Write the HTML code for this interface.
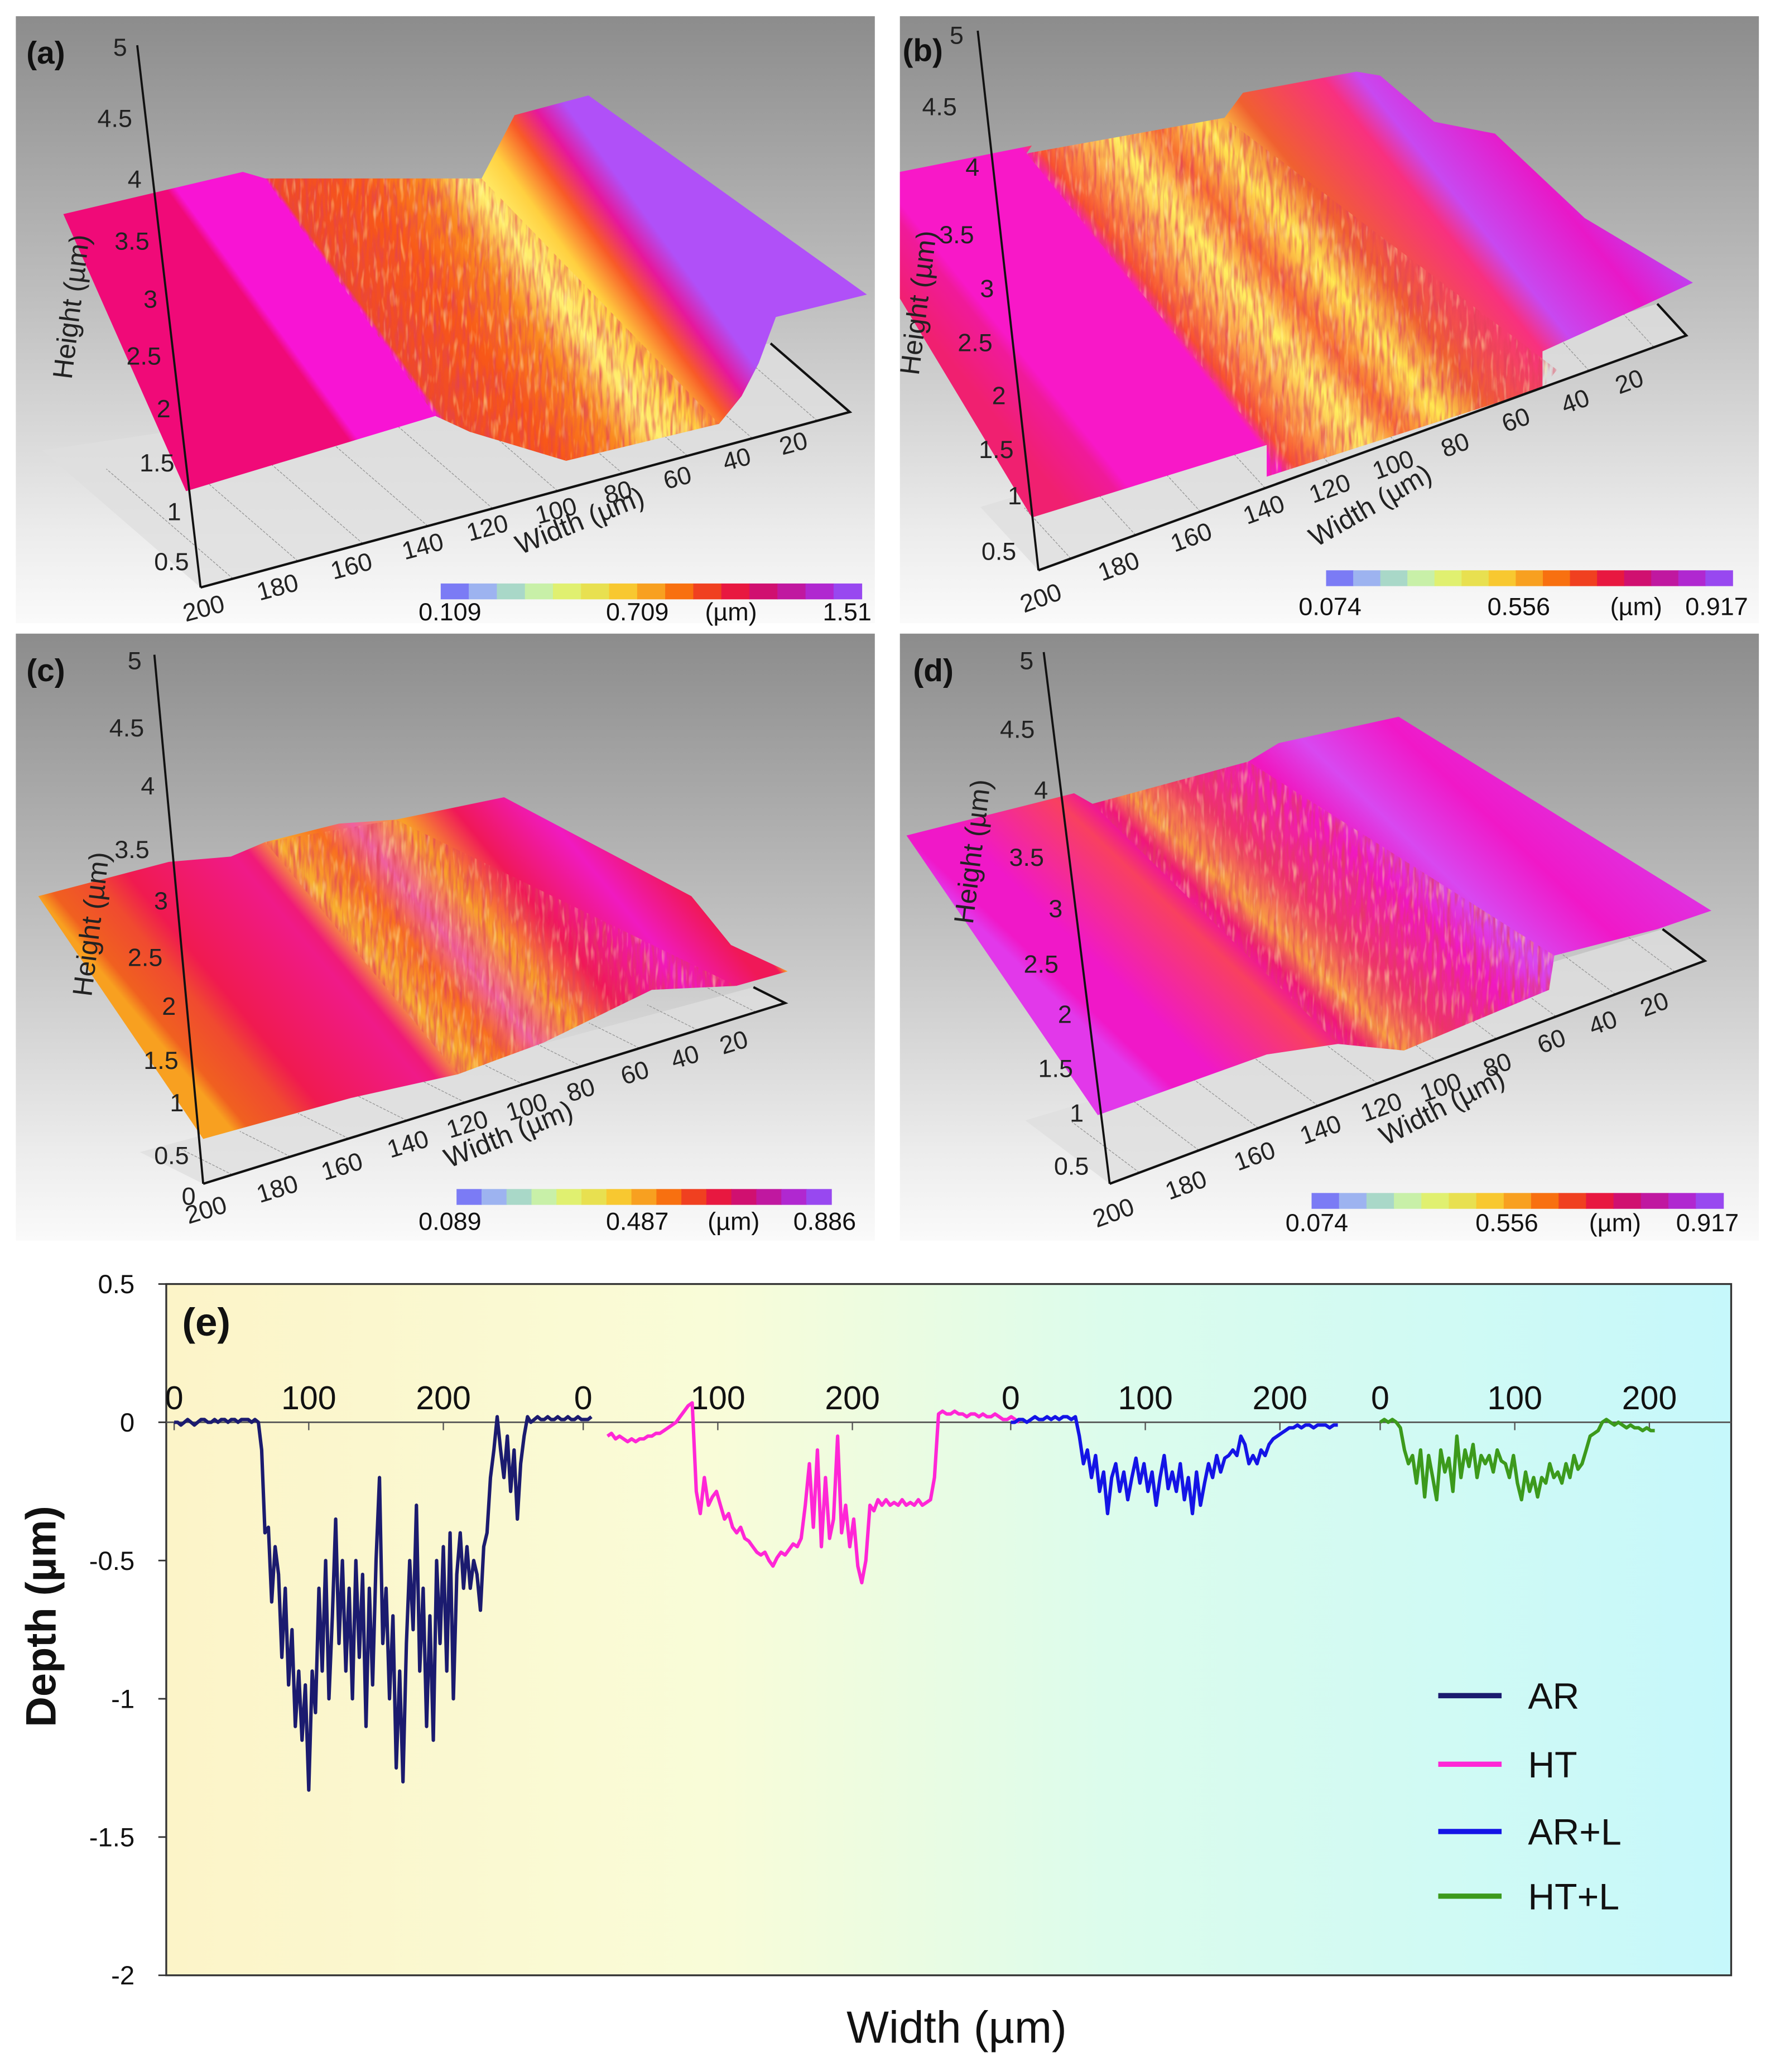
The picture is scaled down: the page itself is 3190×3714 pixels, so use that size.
<!DOCTYPE html>
<html><head><meta charset="utf-8"><title>Surface profiles</title>
<style>
html,body{margin:0;padding:0;background:#fff;}
svg{display:block;font-family:"Liberation Sans",Arial,sans-serif;}
</style></head>
<body>
<svg id="fig" xmlns="http://www.w3.org/2000/svg" width="3190" height="3714" viewBox="0 0 1349 1570">
<defs id="defs">
<linearGradient id="panelbg" x1="0" y1="0" x2="0" y2="1">
<stop offset="0" stop-color="#8c8c8c"/><stop offset="0.45" stop-color="#bdbdbd"/><stop offset="0.85" stop-color="#ececec"/><stop offset="1" stop-color="#fafafa"/>
</linearGradient>
<linearGradient id="ebg" x1="0" y1="0" x2="1" y2="0">
<stop offset="0" stop-color="#fcf4c8"/><stop offset="0.35" stop-color="#f9fcd8"/><stop offset="0.6" stop-color="#dcfcec"/><stop offset="1" stop-color="#c6f8fb"/>
</linearGradient>
<filter id="nz" x="0" y="0" width="1" height="1">
<feTurbulence type="fractalNoise" baseFrequency="0.35 0.05" numOctaves="2" seed="4"/>
<feColorMatrix type="matrix" values="0 0 0 0 0.75  0 0 0 0 0.05  0 0 0 0 0.1  0 0 0 2.2 -0.9"/>
</filter>
<filter id="nz2" x="0" y="0" width="1" height="1">
<feTurbulence type="fractalNoise" baseFrequency="0.3 0.06" numOctaves="2" seed="9"/>
<feColorMatrix type="matrix" values="0 0 0 0 1  0 0 0 0 0.95  0 0 0 0 0.4  0 0 0 2.4 -1.3"/>
</filter>
</defs>
<rect x="0" y="0" width="1349" height="1570" fill="#fff"/>
<g id="panels"></g>
<g id="panelE"></g>
</svg>
<script>
// ---------- Panel (e) data ----------
const seriesNames = ["AR", "HT", "AR+L", "HT+L"];
const seriesColors = ["#1b1b6f", "#ff26d6", "#1414e6", "#3c9a1c"];
const seriesOffsetsPx = [132, 442, 766, 1046];
const arStart = 0, arStep = 2.5;
const arDepth = [0,0,-0.01,0,0.01,0,-0.01,0,0.01,0.01,0,0,0.01,0,0.01,0.01,0,0.01,0.01,0,0.01,0.01,0.01,0,0.01,0,
-0.1,-0.4,-0.38,-0.65,-0.45,-0.55,-0.85,-0.6,-0.95,-0.75,-1.1,-0.9,-1.15,-0.95,-1.33,-0.9,-1.05,-0.6,-0.9,-0.5,-1.0,-0.7,-0.35,-0.8,-0.5,-0.9,-0.6,-1.0,-0.5,-0.85,-0.55,-1.1,-0.6,-0.95,-0.5,-0.2,-0.8,-0.6,-1.0,-0.7,-1.25,-0.9,-1.3,-0.8,-0.5,-0.75,-0.3,-0.9,-0.6,-1.1,-0.7,-1.15,-0.5,-0.8,-0.45,-0.9,-0.4,-1.0,-0.55,-0.4,-0.6,-0.45,-0.6,-0.5,-0.55,-0.68,-0.45,
-0.4,-0.2,-0.1,0.02,-0.1,-0.2,-0.05,-0.25,-0.1,-0.35,-0.15,-0.05,0.02,0,0.01,0.02,
0.01,0.01,0.02,0.01,0.01,0.02,0.01,0.01,0.02,0.01,0.01,0.02,0.01,0.01,0.01,0.02];
const htStart = 18, htStep = 3;
const htDepth = [-0.05,-0.04,-0.06,-0.05,-0.06,-0.07,-0.06,-0.07,-0.06,-0.06,
-0.05,-0.05,-0.04,-0.04,-0.03,-0.02,-0.01,0.0,0.02,0.04,0.06,0.07,
-0.25,-0.33,-0.2,-0.3,-0.27,-0.25,-0.3,-0.35,-0.33,-0.38,-0.4,-0.38,-0.42,
-0.43,-0.45,-0.47,-0.48,-0.47,-0.5,-0.52,-0.49,-0.47,-0.48,-0.46,-0.44,-0.45,
-0.42,-0.3,-0.15,-0.38,-0.1,-0.45,-0.2,-0.42,-0.35,-0.05,-0.4,-0.3,-0.45,-0.35,
-0.52,-0.58,-0.5,-0.3,-0.32,-0.28,-0.3,-0.28,-0.3,-0.29,-0.3,-0.28,-0.3,
-0.29,-0.3,-0.28,-0.3,-0.29,-0.28,-0.2,
0.03,0.04,0.03,0.03,0.04,0.03,0.03,0.02,0.03,0.03,0.02,0.03,0.02,0.02,0.03,0.02,0.01,0.01,0.02,0.01,0.0];
const arlStart = 0, arlStep = 3;
const arlDepth = [0,0,0.01,0.01,0,0.01,0.02,0.01,0.01,0.02,0.01,0.02,0.01,0.02,0.02,0.01,0.02,
-0.05,-0.15,-0.1,-0.2,-0.12,-0.25,-0.18,-0.33,-0.2,-0.15,-0.25,-0.18,-0.28,-0.2,-0.13,-0.22,-0.15,-0.25,-0.18,-0.3,-0.2,-0.12,-0.24,-0.18,
-0.25,-0.15,-0.28,-0.2,-0.33,-0.18,-0.3,-0.22,-0.15,-0.2,-0.12,-0.18,-0.13,-0.12,-0.1,-0.12,-0.05,-0.08,-0.15,-0.12,
-0.15,-0.1,-0.12,-0.08,-0.06,-0.05,-0.04,-0.03,-0.02,-0.02,-0.01,-0.02,-0.01,-0.01,-0.02,-0.01,-0.01,-0.01,-0.02,-0.01,-0.01];
const htlStart = 0, htlStep = 3;
const htlDepth = [0,0.01,0,0.01,0,-0.02,
-0.1,-0.15,-0.12,-0.22,-0.1,-0.27,-0.12,-0.2,-0.28,-0.1,-0.18,-0.13,-0.25,-0.05,-0.2,-0.1,-0.16,-0.08,-0.2,-0.12,-0.15,-0.12,-0.18,-0.1,-0.14,
-0.15,-0.2,-0.12,-0.22,-0.28,-0.18,-0.25,-0.2,-0.27,-0.2,-0.22,-0.15,-0.2,-0.18,-0.22,-0.15,-0.2,-0.12,-0.17,-0.15,
-0.1,-0.05,-0.04,-0.03,0,0.01,0,-0.01,0,-0.01,-0.02,-0.01,-0.02,-0.02,-0.03,-0.02,-0.03,-0.03];
const yTicks = [0.5, 0, -0.5, -1, -1.5, -2];
const yTickLabels = ["0.5", "0", "-0.5", "-1", "-1.5", "-2"];
const topTicks = [0, 100, 200];

const NS = "http://www.w3.org/2000/svg";
function mk(tag, attrs, parent, text) {
  const el = document.createElementNS(NS, tag);
  for (const k in attrs) el.setAttribute(k, attrs[k]);
  if (text !== undefined) el.textContent = text;
  parent.appendChild(el);
  return el;
}

const plotL = 126, plotR = 1312, plotT = 973, plotB = 1497;
const yMax = 0.5, yMin = -2;
function yPix(v) { return plotT + (yMax - v) / (yMax - yMin) * (plotB - plotT); }
const umPx = 1.02;
function xPix(si, um) { return seriesOffsetsPx[si] + um * umPx; }

const E = document.getElementById("panelE");
let r = mk("rect", {x: plotL, y: plotT, width: plotR - plotL, height: plotB - plotT, fill: "url(#ebg)", stroke: "#333", "stroke-width": 1.4}, E);


let zl = mk("line", {x1: plotL, x2: plotR, y1: yPix(0), y2: yPix(0), stroke: "#555", "stroke-width": 1.2}, E);



yTicks.forEach((v, i) => {
  const t = mk("text", {x: 102, y: yPix(v) + 7, "text-anchor": "end", "font-size": 20, fill: "#111"}, E, yTickLabels[i]);
  
  
  const tk = mk("line", {x1: plotL - 6, x2: plotL, y1: yPix(v), y2: yPix(v), stroke: "#333", "stroke-width": 1.2}, E);
  
  
});
seriesOffsetsPx.forEach((off, si) => {
  topTicks.forEach(tv => {
    const x = xPix(si, tv);
    const t = mk("text", {x: x, y: 1068, "text-anchor": "middle", "font-size": 25, fill: "#111"}, E, String(tv));
    
    
    const tk = mk("line", {x1: x, x2: x, y1: yPix(0), y2: yPix(0) + 6, stroke: "#555", "stroke-width": 1}, E);
    
    
  });
});
const allSeries = [[arDepth, arStart, arStep], [htDepth, htStart, htStep], [arlDepth, arlStart, arlStep], [htlDepth, htlStart, htlStep]];
allSeries.forEach((s, si) => {
  const pts = s[0].map((v, i) => xPix(si, s[1] + i * s[2]).toFixed(1) + "," + yPix(v).toFixed(1)).join(" ");
  const pl = mk("polyline", {points: pts, fill: "none", stroke: seriesColors[si], "stroke-width": 2.6, "stroke-linejoin": "round"}, E);
  
  
});
const legY = [1285, 1337, 1388, 1437];
seriesNames.forEach((n, i) => {
  const ln = mk("line", {x1: 1090, x2: 1138, y1: legY[i], y2: legY[i], stroke: seriesColors[i], "stroke-width": 4}, E);
  
  
  const t = mk("text", {x: 1158, y: legY[i] + 10, "font-size": 28, fill: "#111"}, E, n);
  
  
});
let el = mk("text", {x: 138, y: 1012, "font-size": 30, "font-weight": "bold", fill: "#111"}, E, "(e)");


el = mk("text", {x: 0, y: 0, transform: "translate(42,1225) rotate(-90)", "text-anchor": "middle", "font-size": 32, "font-weight": "bold", fill: "#111"}, E, "Depth (µm)");


el = mk("text", {x: 725, y: 1548, "text-anchor": "middle", "font-size": 34, fill: "#111"}, E, "Width (µm)");



// ---------- 3D panels (decorative renderings) ----------
const cbColors = ["#7b7bf5","#9db3f0","#a9d8c8","#c8f0a8","#e0f070","#e8e050","#f8c830","#f8a020","#f87010","#f04020","#e81840","#d01070","#c018a0","#b028d0","#9848f0"];
const panels = [
 {id:"a", ox:12, oy:12, lab:[20,48],
  axisTop:[104,34], axisBot:[152,445], floorR:[644,312], floorB:[584,260],
  hTicks:[["5",91,35],["4.5",87,89],["4",102,135],["3.5",100,182],["3",114,226],["2.5",109,269],["2",124,309],["1.5",119,350],["1",132,387],["0.5",130,425]],
  wTicks:[["200",156,460],["180",212,444],["160",268,428],["140",322,413],["120",371,399],["100",423,386],["80",470,372],["60",515,361],["40",560,347],["20",603,335]],
  wRot:-15, wLab:[442,401,-22], hLab:[61,233,-83],
  cb:[334,442,653,454], cbLab:[["0.109",341],["0.709",483],["(µm)",554],["1.51",642]], cbY:470,
  surf:[[48,162],[184,130],[201,135],[365,135],[390,87],[446,72],[657,223],[588,240],[575,275],[562,300],[545,321],[429,349],[356,327],[330,315],[141,372]],
  dir:[183,-133],
  stops:[[[48,162],"#f00a78"],[[160,190],"#f00a78"],[[168,190],"#f814d4"],[[201,135],"#f814d4"],[[208,140],"#f04a28"],[[290,160],"#f85818"],[[340,160],"#fa8a20"],[[375,160],"#fff070"],[[400,150],"#ffd040"],[[430,150],"#f85a28"],[[455,150],"#e6189c"],[[480,150],"#b050f8"],[[657,223],"#b050f8"]],
  noise:[[201,135],[365,135],[545,321],[429,349],[356,327],[330,315]]},
 {id:"b", ox:682, oy:12, lab:[684,46],
  axisTop:[741,23], axisBot:[787,432], floorR:[1278,254], floorB:[1256,230],
  hTicks:[["5",725,26],["4.5",712,80],["4",737,126],["3.5",725,177],["3",748,218],["2.5",739,259],["2",757,299],["1.5",755,340],["1",769,375],["0.5",757,417]],
  wTicks:[["200",791,452],["180",850,428],["160",905,406],["140",960,385],["120",1010,369],["100",1058,351],["80",1105,336],["60",1151,317],["40",1196,303],["20",1237,288]],
  wRot:-20, wLab:[1042,389,-30], hLab:[703,230,-83],
  cb:[1005,432,1313,444], cbLab:[["0.074",1008],["0.556",1151],["(µm)",1240],["0.917",1301]], cbY:466,
  surf:[[682,130],[782,110],[778,116],[928,89],[942,70],[1028,54],[1046,57],[1087,92],[1133,101],[1201,165],[1283,214],[1242,233],[1169,266],[1169,294],[960,361],[960,337],[782,392],[682,226]],
  dir:[221,-178],
  stops:[[[682,226],"#f02070"],[[740,240],"#f01a9a"],[[800,300],"#f818c8"],[[955,337],"#f818c8"],[[968,337],"#f85030"],[[1005,300],"#fff060"],[[1040,300],"#f87030"],[[1080,300],"#ffe850"],[[1120,300],"#f06030"],[[1169,266],"#f83080"],[[1185,250],"#c848f0"],[[1220,200],"#e818c8"],[[1283,214],"#c040f0"]],
  noise:[[778,116],[928,89],[1180,280],[1169,294],[960,361],[960,337]]},
 {id:"c", ox:12, oy:480, lab:[20,516],
  axisTop:[117,496], axisBot:[154,897], floorR:[595,760], floorB:[571,748],
  hTicks:[["5",102,500],["4.5",96,551],["4",112,595],["3.5",100,643],["3",122,682],["2.5",110,725],["2",128,762],["1.5",122,803],["1",134,835],["0.5",130,875],["0",143,906]],
  wTicks:[["200",158,916],["180",212,900],["160",261,883],["140",311,866],["120",356,851],["100",401,838],["80",442,825],["60",483,812],["40",521,800],["20",558,789]],
  wRot:-17, wLab:[388,866,-22], hLab:[76,701,-83],
  cb:[346,901,630,913], cbLab:[["0.089",341],["0.487",483],["(µm)",556],["0.886",625]], cbY:932,
  surf:[[29,679],[128,653],[175,649],[201,638],[257,624],[300,621],[382,604],[524,679],[554,716],[597,736],[558,747],[494,750],[412,790],[347,814],[266,832],[154,863]],
  dir:[176,-146],
  stops:[[[29,679],"#f8a020"],[[60,700],"#f06020"],[[100,700],"#f04a30"],[[128,700],"#f01a50"],[[170,720],"#f01a60"],[[220,700],"#f01a88"],[[250,720],"#f01a78"],[[262,700],"#f8b030"],[[300,700],"#f87020"],[[330,700],"#f060a0"],[[370,700],"#f8a028"],[[400,680],"#f01858"],[[450,660],"#f01ac0"],[[500,650],"#f01858"],[[560,700],"#f01858"],[[597,736],"#f8b020"]],
  noise:[[201,638],[300,621],[558,747],[494,750],[412,790],[347,814]]},
 {id:"d", ox:682, oy:480, lab:[692,516],
  axisTop:[791,494], axisBot:[841,897], floorR:[1292,728], floorB:[1260,704],
  hTicks:[["5",778,500],["4.5",771,552],["4",789,598],["3.5",778,649],["3",800,688],["2.5",789,730],["2",807,768],["1.5",800,809],["1",816,843],["0.5",812,883]],
  wTicks:[["200",846,918],["180",901,897],["160",953,875],["140",1003,855],["120",1049,838],["100",1094,823],["80",1137,806],["60",1178,788],["40",1217,774],["20",1256,760]],
  wRot:-20, wLab:[1096,845,-27], hLab:[744,646,-83],
  cb:[994,904,1306,916], cbLab:[["0.074",998],["0.556",1142],["(µm)",1224],["0.917",1294]], cbY:933,
  surf:[[687,633],[814,601],[828,609],[946,577],[969,563],[1060,543],[1297,690],[1256,704],[1178,724],[1174,750],[1064,796],[1014,791],[960,799],[832,845]],
  dir:[185,-196],
  stops:[[[687,633],"#f018c8"],[[740,700],"#e238ea"],[[800,700],"#f018c8"],[[823,606],"#f01a90"],[[835,606],"#f01878"],[[900,700],"#f84060"],[[960,700],"#f8a040"],[[1000,690],"#f03070"],[[951,575],"#f018c0"],[[1050,620],"#d848f0"],[[1150,640],"#f018c8"],[[1297,690],"#e030e0"]],
  noise:[[828,609],[946,577],[1178,724],[1174,750],[1064,796],[1014,791]]}
];
const P = document.getElementById("panels");
const D = document.getElementById("defs");
function pstr(a) { return a.map(p => p[0] + "," + p[1]).join(" "); }
panels.forEach(c => {
  const g = mk("g", {}, P);
  
  
  let e = mk("rect", {x: c.ox, y: c.oy, width: 651, height: 460, fill: "url(#panelbg)"}, g);
  
  
  const fb = c.axisBot, fr = c.floorR, dv = [c.floorB[0] - fr[0], c.floorB[1] - fr[1]];
  const floorPts = [fb, fr, c.floorB, [fb[0] + dv[0] * 2, fb[1] + dv[1] * 2]];
  e = mk("polygon", {points: pstr(floorPts), fill: "#dedede", opacity: 0.8}, g);
  
  
  c.wTicks.forEach((t, i) => {
    const f = (i + 0.5) / c.wTicks.length;
    const x0 = fb[0] + (fr[0] - fb[0]) * (1 - f), y0 = fb[1] + (fr[1] - fb[1]) * (1 - f);
    e = mk("line", {x1: x0, y1: y0, x2: x0 + dv[0] * 1.6, y2: y0 + dv[1] * 1.6, stroke: "#9a9a9a", "stroke-width": 0.6, "stroke-dasharray": "2,1"}, g);
    
    
  });
  const len = Math.hypot(c.dir[0], c.dir[1]), ux = c.dir[0] / len, uy = c.dir[1] / len;
  const proj = p => p[0] * ux + p[1] * uy;
  const pr = c.surf.map(proj), mn = Math.min(...pr), mx = Math.max(...pr);
  const p0 = c.surf[pr.indexOf(mn)];
  const L = mx - mn;
  const lg = mk("linearGradient", {id: "sg" + c.id, gradientUnits: "userSpaceOnUse", x1: p0[0], y1: p0[1], x2: p0[0] + ux * L, y2: p0[1] + uy * L}, D);
  const st = c.stops.map(s => [Math.max(0, Math.min(1, (proj(s[0]) - mn) / L)), s[1]]).sort((a, b) => a[0] - b[0]);
  st.forEach(s => mk("stop", {offset: s[0].toFixed(4), "stop-color": s[1]}, lg));
  e = mk("polygon", {points: pstr(c.surf), fill: "url(#sg" + c.id + ")"}, g);
  
  
  const cp = mk("clipPath", {id: "cl" + c.id}, D);
  mk("polygon", {points: pstr(c.noise)}, cp);
  e = mk("rect", {x: c.ox, y: c.oy, width: 651, height: 460, filter: "url(#nz)", "clip-path": "url(#cl" + c.id + ")", opacity: 0.75}, g);
  
  
  e = mk("rect", {x: c.ox, y: c.oy, width: 651, height: 460, filter: "url(#nz2)", "clip-path": "url(#cl" + c.id + ")", opacity: 0.6}, g);
  
  
  e = mk("line", {x1: c.axisTop[0], y1: c.axisTop[1], x2: c.axisBot[0], y2: c.axisBot[1], stroke: "#111", "stroke-width": 1.6}, g);
  
  
  e = mk("polyline", {points: pstr([c.axisBot, c.floorR, c.floorB]), fill: "none", stroke: "#111", "stroke-width": 1.8}, g);
  
  
  c.hTicks.forEach(t => {
    const tx = mk("text", {x: t[1], y: t[2] + 7, "text-anchor": "middle", "font-size": 19, fill: "#222"}, g, t[0]);
    
    
  });
  c.wTicks.forEach(t => {
    const tx = mk("text", {x: 0, y: 0, transform: "translate(" + t[1] + "," + (t[2] + 7) + ") rotate(" + c.wRot + ")", "text-anchor": "middle", "font-size": 19, fill: "#222"}, g, t[0]);
    
    
  });
  e = mk("text", {x: 0, y: 0, transform: "translate(" + c.wLab[0] + "," + c.wLab[1] + ") rotate(" + c.wLab[2] + ")", "text-anchor": "middle", "font-size": 21, fill: "#222"}, g, "Width (µm)");
  
  
  e = mk("text", {x: 0, y: 0, transform: "translate(" + c.hLab[0] + "," + c.hLab[1] + ") rotate(" + c.hLab[2] + ")", "text-anchor": "middle", "font-size": 21, fill: "#222"}, g, "Height (µm)");
  
  
  e = mk("text", {x: c.lab[0], y: c.lab[1], "font-size": 24, "font-weight": "bold", fill: "#111"}, g, "(" + c.id + ")");
  
  
  const cw = (c.cb[2] - c.cb[0]) / cbColors.length;
  cbColors.forEach((col, i) => {
    const sw = mk("rect", {x: c.cb[0] + i * cw, y: c.cb[1], width: cw + 0.4, height: c.cb[3] - c.cb[1], fill: col}, g);
    
    
  });
  c.cbLab.forEach(l => {
    const tx = mk("text", {x: l[1], y: c.cbY, "text-anchor": "middle", "font-size": 19, fill: "#111"}, g, l[0]);
    
    
  });
});
</script>
</body></html>
